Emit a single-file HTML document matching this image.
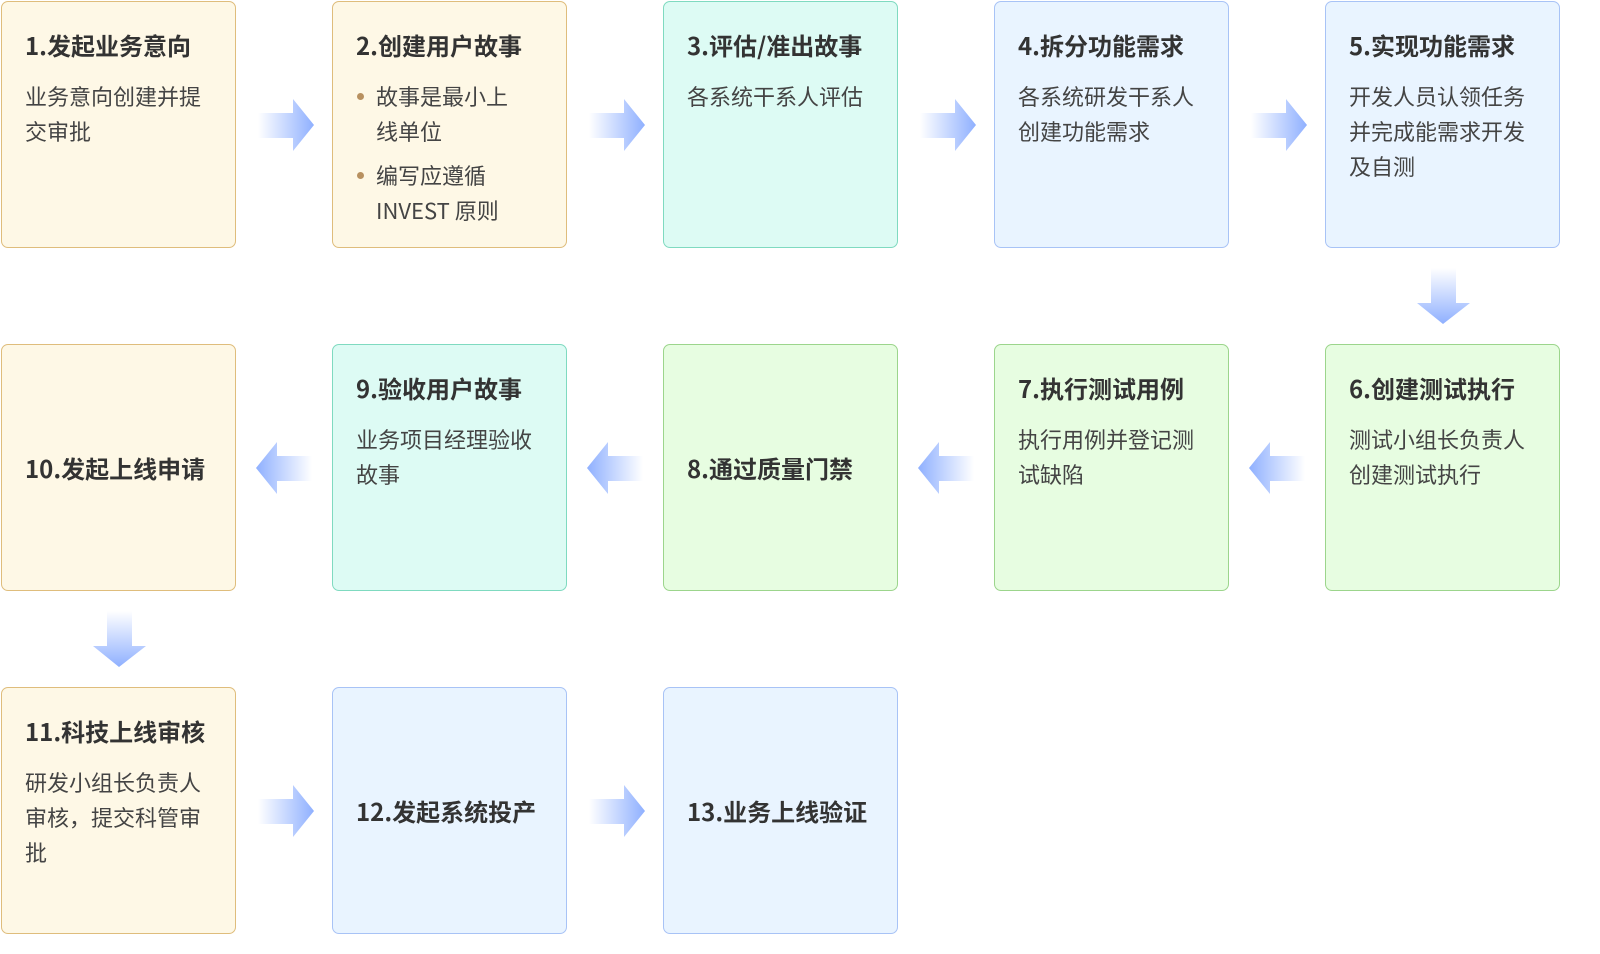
<!DOCTYPE html>
<html><head><meta charset="utf-8">
<style>
html,body{margin:0;padding:0;background:#fff;}
body{width:1600px;height:954px;position:relative;overflow:hidden;font-family:"Noto Sans CJK SC","Liberation Sans",sans-serif;}
.b{position:absolute;width:233px;height:245px;border:1.5px solid;border-radius:7px;box-sizing:content-box;}
.y{background:#fef8e6;border-color:#dfbd7c;}
.t{background:#ddfbf4;border-color:#7fdac0;}
.u{background:#e9f4ff;border-color:#a8c3f6;}
.g{background:#e7fde1;border-color:#9cd58c;}
.h{position:absolute;left:23px;top:26px;font-size:24px;font-weight:bold;color:#333;line-height:34px;white-space:nowrap;}
.p{position:absolute;left:23px;top:77px;font-size:22px;color:#444;line-height:35px;width:190px;}
.c{position:absolute;left:23px;top:0;height:245px;display:flex;align-items:center;font-size:24px;font-weight:bold;color:#333;white-space:nowrap;}
.li{position:relative;padding-left:20px;margin-bottom:9px;}
.li:before{content:"";position:absolute;left:1px;top:14px;width:7px;height:7px;border-radius:50%;background:#b89160;}
svg.a{position:absolute;}
</style></head><body>
<svg width="0" height="0" style="position:absolute">
<defs>
<linearGradient id="gr" x1="0" x2="1" y1="0" y2="0"><stop offset="0" stop-color="#8fb0ff" stop-opacity="0"/><stop offset="1" stop-color="#8fb0ff"/></linearGradient>
<linearGradient id="gl" x1="1" x2="0" y1="0" y2="0"><stop offset="0" stop-color="#8fb0ff" stop-opacity="0"/><stop offset="1" stop-color="#8fb0ff"/></linearGradient>
<linearGradient id="gd" x1="0" x2="0" y1="0" y2="1"><stop offset="0" stop-color="#8fb0ff" stop-opacity="0"/><stop offset="1" stop-color="#8fb0ff"/></linearGradient>
</defs></svg>

<div class="b y" style="left:1px;top:1px"><div class="h">1.发起业务意向</div><div class="p">业务意向创建并提交审批</div></div>
<div class="b y" style="left:332px;top:1px"><div class="h">2.创建用户故事</div><div class="p" style="width:170px"><div class="li">故事是最小上线单位</div><div class="li">编写应遵循 INVEST 原则</div></div></div>
<div class="b t" style="left:663px;top:1px"><div class="h">3.评估/准出故事</div><div class="p">各系统干系人评估</div></div>
<div class="b u" style="left:994px;top:1px"><div class="h">4.拆分功能需求</div><div class="p">各系统研发干系人创建功能需求</div></div>
<div class="b u" style="left:1325px;top:1px"><div class="h">5.实现功能需求</div><div class="p">开发人员认领任务并完成能需求开发及自测</div></div>

<div class="b y" style="left:1px;top:344px"><div class="c">10.发起上线申请</div></div>
<div class="b t" style="left:332px;top:344px"><div class="h">9.验收用户故事</div><div class="p">业务项目经理验收故事</div></div>
<div class="b g" style="left:663px;top:344px"><div class="c">8.通过质量门禁</div></div>
<div class="b g" style="left:994px;top:344px"><div class="h">7.执行测试用例</div><div class="p">执行用例并登记测试缺陷</div></div>
<div class="b g" style="left:1325px;top:344px"><div class="h">6.创建测试执行</div><div class="p">测试小组长负责人创建测试执行</div></div>

<div class="b y" style="left:1px;top:687px"><div class="h">11.科技上线审核</div><div class="p">研发小组长负责人审核，提交科管审批</div></div>
<div class="b u" style="left:332px;top:687px"><div class="c">12.发起系统投产</div></div>
<div class="b u" style="left:663px;top:687px"><div class="c">13.业务上线验证</div></div>

<svg class="a" style="left:258px;top:97px" width="60" height="58"><polygon points="0,16 35,16 35,2 56,28 35,54 35,41 0,41" fill="url(#gr)"/></svg>
<svg class="a" style="left:589px;top:97px" width="60" height="58"><polygon points="0,16 35,16 35,2 56,28 35,54 35,41 0,41" fill="url(#gr)"/></svg>
<svg class="a" style="left:920px;top:97px" width="60" height="58"><polygon points="0,16 35,16 35,2 56,28 35,54 35,41 0,41" fill="url(#gr)"/></svg>
<svg class="a" style="left:1251px;top:97px" width="60" height="58"><polygon points="0,16 35,16 35,2 56,28 35,54 35,41 0,41" fill="url(#gr)"/></svg>
<svg class="a" style="left:1415px;top:268px" width="58" height="58"><polygon points="16,0 41,0 41,35 55,35 28,56 2,35 16,35" fill="url(#gd)"/></svg>
<svg class="a" style="left:91px;top:611px" width="58" height="58"><polygon points="16,0 41,0 41,35 55,35 28,56 2,35 16,35" fill="url(#gd)"/></svg>
<svg class="a" style="left:254px;top:440px" width="60" height="58"><polygon points="58,16 23,16 23,2 2,28 23,54 23,41 58,41" fill="url(#gl)"/></svg>
<svg class="a" style="left:585px;top:440px" width="60" height="58"><polygon points="58,16 23,16 23,2 2,28 23,54 23,41 58,41" fill="url(#gl)"/></svg>
<svg class="a" style="left:916px;top:440px" width="60" height="58"><polygon points="58,16 23,16 23,2 2,28 23,54 23,41 58,41" fill="url(#gl)"/></svg>
<svg class="a" style="left:1247px;top:440px" width="60" height="58"><polygon points="58,16 23,16 23,2 2,28 23,54 23,41 58,41" fill="url(#gl)"/></svg>
<svg class="a" style="left:258px;top:783px" width="60" height="58"><polygon points="0,16 35,16 35,2 56,28 35,54 35,41 0,41" fill="url(#gr)"/></svg>
<svg class="a" style="left:589px;top:783px" width="60" height="58"><polygon points="0,16 35,16 35,2 56,28 35,54 35,41 0,41" fill="url(#gr)"/></svg>
</body></html>
